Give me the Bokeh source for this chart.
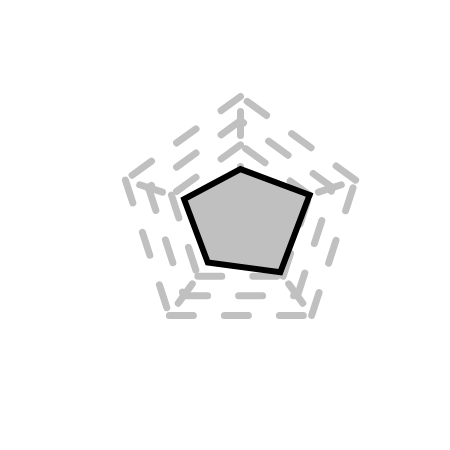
import math
from bokeh.plotting import figure
from bokeh.models import Range1d
from bokeh.embed import file_html
from bokeh.resources import INLINE

# Data (normalised 0..1 on each of the five axes, clockwise from top)
categories = ["A", "B", "C", "D", "E"]
values = [0.40, 0.60, 0.56, 0.46, 0.49]
grid_levels = [0.2, 0.4, 0.6, 0.8, 1.0]

R = 121.0  # radius of outer ring in data units
W, H = 434, 434
cx_px, cy_px = 240, 217

p = figure(width=W, height=H, output_backend="svg", toolbar_location=None,
           x_range=Range1d(-cx_px, W - cx_px), y_range=Range1d(-(H - cy_px), cy_px),
           min_border=0, outline_line_color=None)
p.axis.visible = False
p.grid.visible = False
p.background_fill_color = "white"
p.border_fill_color = "white"

n = len(categories)
angles = [math.radians(90 - 360.0 * i / n) for i in range(n)]

grid_color = "#c0c0c0"
dash = "24 31"

# grid rings: each edge drawn separately, counter-clockwise on screen
ex, ey = [], []
for lv in grid_levels:
    for i in range(n):
        a0 = angles[(n - i) % n]
        a1 = angles[(n - i - 1) % n]
        ex.append([R * lv * math.cos(a0), R * lv * math.cos(a1)])
        ey.append([R * lv * math.sin(a0), R * lv * math.sin(a1)])
p.multi_line(ex, ey, line_color=grid_color, line_width=7, line_dash=dash,
             line_cap="round")

# spokes
sx = [[0, R * math.cos(a)] for a in angles]
sy = [[0, R * math.sin(a)] for a in angles]
p.multi_line(sx, sy, line_color=grid_color, line_width=7, line_dash=dash,
             line_dash_offset=28, line_cap="round")

# data polygon
dx = [R * v * math.cos(a) for v, a in zip(values, angles)]
dy = [R * v * math.sin(a) for v, a in zip(values, angles)]
p.patch(dx, dy, fill_color="#c0c0c0", fill_alpha=1.0, line_color="black",
        line_width=6, line_join="miter")

open("out.html", "w").write(file_html(p, INLINE))
